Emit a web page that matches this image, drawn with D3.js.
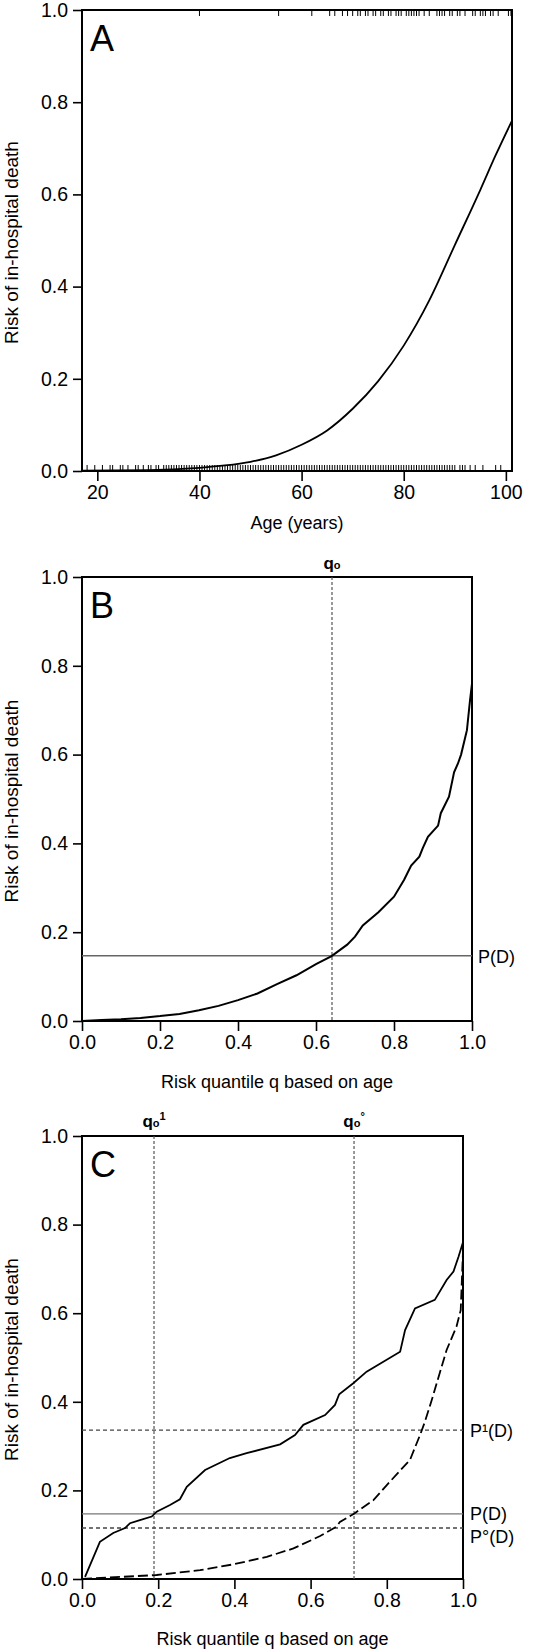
<!DOCTYPE html>
<html>
<head>
<meta charset="utf-8">
<script src="https://cdn.jsdelivr.net/npm/d3@7"></script>
<style>
  body { margin: 0; background: #fff; }
  text { font-family: "Liberation Sans", Arial, sans-serif; }
</style>
</head>
<body>
<div id="vis"></div>
<script>
const FRAME_WIDTH = 543;
const FRAME_HEIGHT = 1652;

// ---- data ----
// panel A: fitted risk by age
const AGE_CURVE = [17, 30, 40, 45, 50, 55, 60, 65, 70, 75, 80, 85, 90, 95, 98, 101.2];
const AGE_RISK = [0.001, 0.002, 0.007, 0.012, 0.02, 0.034, 0.057, 0.088, 0.135, 0.195, 0.272, 0.37, 0.49, 0.61, 0.685, 0.76];
// rug: ages of patients who died (top) and survived (bottom)
const AGE_DIED = [40, 55.5, 62, 65.5, 66.5, 68, 69, 70, 71, 71.5, 72.5, 73, 74, 74.5, 75.5, 76, 77, 77.5, 78.5, 79, 79.5,
  80.5, 81, 81.5, 82, 82.5, 83, 84, 85, 86.5, 87, 87.5, 88, 89, 89.5, 90.5, 91, 92, 93.5, 94, 95, 95.5, 96,
  97, 97.5, 98.5, 100.5, 101];
const AGE_SURVIVED = [18, 19.5, 21, 22.5, 23, 24.5, 25, 26, 27.5, 28, 29, 30, 30.5, 31.5, 32, 33, 33.5, 34, 34.5, 35,
  35.5, 36, 36.5, 37, 37.5, 38, 38.5, 39, 39.5, 40, 40.5, 41, 41.5, 42, 42.5, 43, 43.5, 44, 44.5, 45, 45.5, 46, 46.5,
  47, 47.5, 48, 48.5, 49, 49.5, 50, 50.5, 51, 51.5, 52, 52.5, 53, 53.5, 54, 54.5, 55, 55.5, 56, 56.5, 57, 57.5, 58,
  58.5, 59, 59.5, 60, 60.5, 61, 61.5, 62, 62.5, 63, 63.5, 64, 64.5, 65, 65.5, 66, 66.5, 67, 67.5, 68, 68.5, 69, 69.5,
  70, 70.5, 71, 71.5, 72, 72.5, 73, 73.5, 74, 74.5, 75, 75.5, 76, 76.5, 77, 77.5, 78, 78.5, 79, 79.5, 80, 80.5, 81,
  81.5, 82, 82.5, 83, 83.5, 84, 84.5, 85, 85.5, 86, 86.5, 87, 87.5, 88, 88.5, 89, 89.5, 90, 91, 91.5, 92, 93, 94,
  95.5, 98, 99];

// panel B: risk vs risk quantile (all patients)
const Q_ALL = [0, 0.05, 0.1, 0.15, 0.2, 0.25, 0.3, 0.35, 0.4, 0.45, 0.5, 0.55, 0.6, 0.64, 0.68, 0.7, 0.72, 0.76, 0.8,
  0.826, 0.844, 0.865, 0.874, 0.887, 0.913, 0.92, 0.941, 0.954, 0.964, 0.972, 0.987, 0.995, 1.0];
const RISK_ALL = [0, 0.002, 0.004, 0.007, 0.011, 0.016, 0.024, 0.034, 0.047, 0.062, 0.083, 0.103, 0.128, 0.146, 0.172,
  0.19, 0.215, 0.245, 0.28, 0.318, 0.35, 0.37, 0.39, 0.415, 0.44, 0.468, 0.505, 0.56, 0.58, 0.60, 0.655, 0.723, 0.76];

// panel C: died (solid) and survived (dashed)
const Q_DIED = [0.008, 0.047, 0.082, 0.113, 0.126, 0.152, 0.183, 0.196, 0.231, 0.257, 0.275, 0.323, 0.388, 0.432, 0.52,
  0.559, 0.581, 0.638, 0.664, 0.675, 0.712, 0.747, 0.835, 0.848, 0.874, 0.926, 0.957, 0.975, 0.988, 1.0];
const RISK_DIED = [0.005, 0.084, 0.104, 0.115, 0.126, 0.133, 0.141, 0.152, 0.167, 0.18, 0.208, 0.246, 0.273, 0.284,
  0.304, 0.325, 0.348, 0.37, 0.393, 0.417, 0.442, 0.468, 0.513, 0.562, 0.611, 0.63, 0.675, 0.694, 0.727, 0.76];
const Q_SURV = [0, 0.196, 0.31, 0.397, 0.485, 0.555, 0.625, 0.668, 0.677, 0.715, 0.765, 0.8, 0.861, 0.889, 0.9, 0.918,
  0.931, 0.957, 0.983, 0.994, 1.0];
const RISK_SURV = [0, 0.009, 0.02, 0.033, 0.05, 0.069, 0.097, 0.118, 0.129, 0.148, 0.178, 0.212, 0.269, 0.329, 0.355,
  0.404, 0.442, 0.517, 0.57, 0.607, 0.74];

// reference lines
const P_D = 0.147;
const P1_D = 0.336;
const P0_D = 0.115;
const Q0_B = 0.641;
const Q0_1 = 0.189;
const Q0_0 = 0.714;

const Y_TICKS = [0, 0.2, 0.4, 0.6, 0.8, 1.0];
const Q_TICKS = [0, 0.2, 0.4, 0.6, 0.8, 1.0];
const AGE_TICKS = [20, 40, 60, 80, 100];

const FRAME = d3.select("#vis")
  .append("svg")
    .attr("width", FRAME_WIDTH)
    .attr("height", FRAME_HEIGHT);

const fmt = d3.format(".1f");

// draws box + axes for one panel, returns scales
function panel(xDomain, xRange, yRange, xTicks, xFmt, letter, xLabel, labelY) {
  const X = d3.scaleLinear().domain(xDomain).range(xRange);
  const Y = d3.scaleLinear().domain([0, 1]).range(yRange);

  const yAx = FRAME.append("g")
    .attr("transform", "translate(" + xRange[0] + ",0)")
    .call(d3.axisLeft(Y).tickValues(Y_TICKS).tickFormat(fmt).tickSize(9).tickPadding(5).tickSizeOuter(0));
  const xAx = FRAME.append("g")
    .attr("transform", "translate(0," + yRange[0] + ")")
    .call(d3.axisBottom(X).tickValues(xTicks).tickFormat(xFmt).tickSize(10).tickPadding(4).tickSizeOuter(0));
  [yAx, xAx].forEach((g) => {
    g.select(".domain").remove();
    g.selectAll("line").attr("stroke", "#000").attr("stroke-width", 1.6);
    g.selectAll("text").attr("font-size", "19.5px").attr("fill", "#000")
      .attr("font-family", "Liberation Sans, Arial, sans-serif");
  });

  FRAME.append("rect")
    .attr("x", xRange[0]).attr("y", yRange[1])
    .attr("width", xRange[1] - xRange[0]).attr("height", yRange[0] - yRange[1])
    .attr("fill", "none").attr("stroke", "#000").attr("stroke-width", 2);

  FRAME.append("text")
    .attr("x", xRange[0] + 8).attr("y", yRange[1] + 41)
    .attr("font-size", "36px").text(letter);

  FRAME.append("text")
    .attr("x", (xRange[0] + xRange[1]) / 2).attr("y", labelY)
    .attr("text-anchor", "middle").attr("font-size", "18px").text(xLabel);

  // rotated y label, kept inside the left edge
  FRAME.append("text")
    .attr("transform", "translate(18," + ((yRange[0] + yRange[1]) / 2 + 2) + ") rotate(-90)")
    .attr("text-anchor", "middle").attr("font-size", "19px").text("Risk of in-hospital death");

  return {X: X, Y: Y};
}

function vline(s, q, top, bottom) {
  FRAME.append("line")
    .attr("x1", s.X(q)).attr("x2", s.X(q)).attr("y1", top).attr("y2", bottom)
    .attr("stroke", "#555").attr("stroke-width", 1.2).attr("stroke-dasharray", "3,2");
}

function hline(s, v, dash, color) {
  FRAME.append("line")
    .attr("x1", s.X.range()[0]).attr("x2", s.X.range()[1]).attr("y1", s.Y(v)).attr("y2", s.Y(v))
    .attr("stroke", color).attr("stroke-width", 1.4).attr("stroke-dasharray", dash);
}

function qLabel(x, y, sup) {
  const t = FRAME.append("text").attr("x", x).attr("y", y).attr("text-anchor", "middle")
    .attr("font-size", "17px").attr("font-weight", "bold");
  t.append("tspan").text("q");
  t.append("tspan").attr("font-size", "11px").text("o");
  if (sup) t.append("tspan").attr("font-size", "11px").attr("dy", -7).text(sup);
}

// ---------- Panel A ----------
const A = panel([17, 101.2], [82, 512], [471, 10], AGE_TICKS, d3.format("d"), "A", "Age (years)", 529);

FRAME.selectAll(".rugTop")
  .data(AGE_DIED).enter().append("line")
    .attr("x1", (d) => A.X(d)).attr("x2", (d) => A.X(d))
    .attr("y1", A.Y(1)).attr("y2", A.Y(1) + 6)
    .attr("stroke", "#000").attr("stroke-width", 1);
FRAME.selectAll(".rugBot")
  .data(AGE_SURVIVED).enter().append("line")
    .attr("x1", (d) => A.X(d)).attr("x2", (d) => A.X(d))
    .attr("y1", A.Y(0)).attr("y2", A.Y(0) - 6)
    .attr("stroke", "#000").attr("stroke-width", 1);

FRAME.append("path")
  .datum(AGE_CURVE.map((a, i) => [a, AGE_RISK[i]]))
  .attr("d", d3.line().x((d) => A.X(d[0])).y((d) => A.Y(d[1])).curve(d3.curveMonotoneX))
  .attr("fill", "none").attr("stroke", "#000").attr("stroke-width", 1.8);

// ---------- Panel B ----------
const B = panel([0, 1], [82, 472], [1021, 577], Q_TICKS, fmt, "B", "Risk quantile q based on age", 1088);

hline(B, P_D, null, "#666");
vline(B, Q0_B, 577, 1021);

FRAME.append("path")
  .datum(Q_ALL.map((q, i) => [q, RISK_ALL[i]]))
  .attr("d", d3.line().x((d) => B.X(d[0])).y((d) => B.Y(d[1])))
  .attr("fill", "none").attr("stroke", "#000").attr("stroke-width", 2);

qLabel(B.X(Q0_B), 569, null);
FRAME.append("text").attr("x", 478).attr("y", B.Y(P_D) + 7).attr("font-size", "18px").text("P(D)");

// ---------- Panel C ----------
const C = panel([0, 1], [82, 463], [1579, 1136], Q_TICKS, fmt, "C", "Risk quantile q based on age", 1645);

hline(C, P_D, null, "#777");
hline(C, P1_D, "4,3", "#444");
hline(C, P0_D, "4,3", "#444");
vline(C, Q0_1, 1136, 1579);
vline(C, Q0_0, 1136, 1579);

FRAME.append("path")
  .datum(Q_SURV.map((q, i) => [q, RISK_SURV[i]]))
  .attr("d", d3.line().x((d) => C.X(d[0])).y((d) => C.Y(d[1])))
  .attr("fill", "none").attr("stroke", "#000").attr("stroke-width", 1.8).attr("stroke-dasharray", "10,4");
FRAME.append("path")
  .datum(Q_DIED.map((q, i) => [q, RISK_DIED[i]]))
  .attr("d", d3.line().x((d) => C.X(d[0])).y((d) => C.Y(d[1])))
  .attr("fill", "none").attr("stroke", "#000").attr("stroke-width", 1.8);

qLabel(C.X(Q0_1), 1127, "1");
qLabel(C.X(Q0_0), 1127, "°");

FRAME.append("text").attr("x", 470).attr("y", C.Y(P1_D) + 7).attr("font-size", "18px").text("P¹(D)");
FRAME.append("text").attr("x", 470).attr("y", C.Y(P_D) + 6).attr("font-size", "18px").text("P(D)");
FRAME.append("text").attr("x", 470).attr("y", C.Y(P0_D) + 15).attr("font-size", "18px").text("P°(D)");
</script>
</body>
</html>
